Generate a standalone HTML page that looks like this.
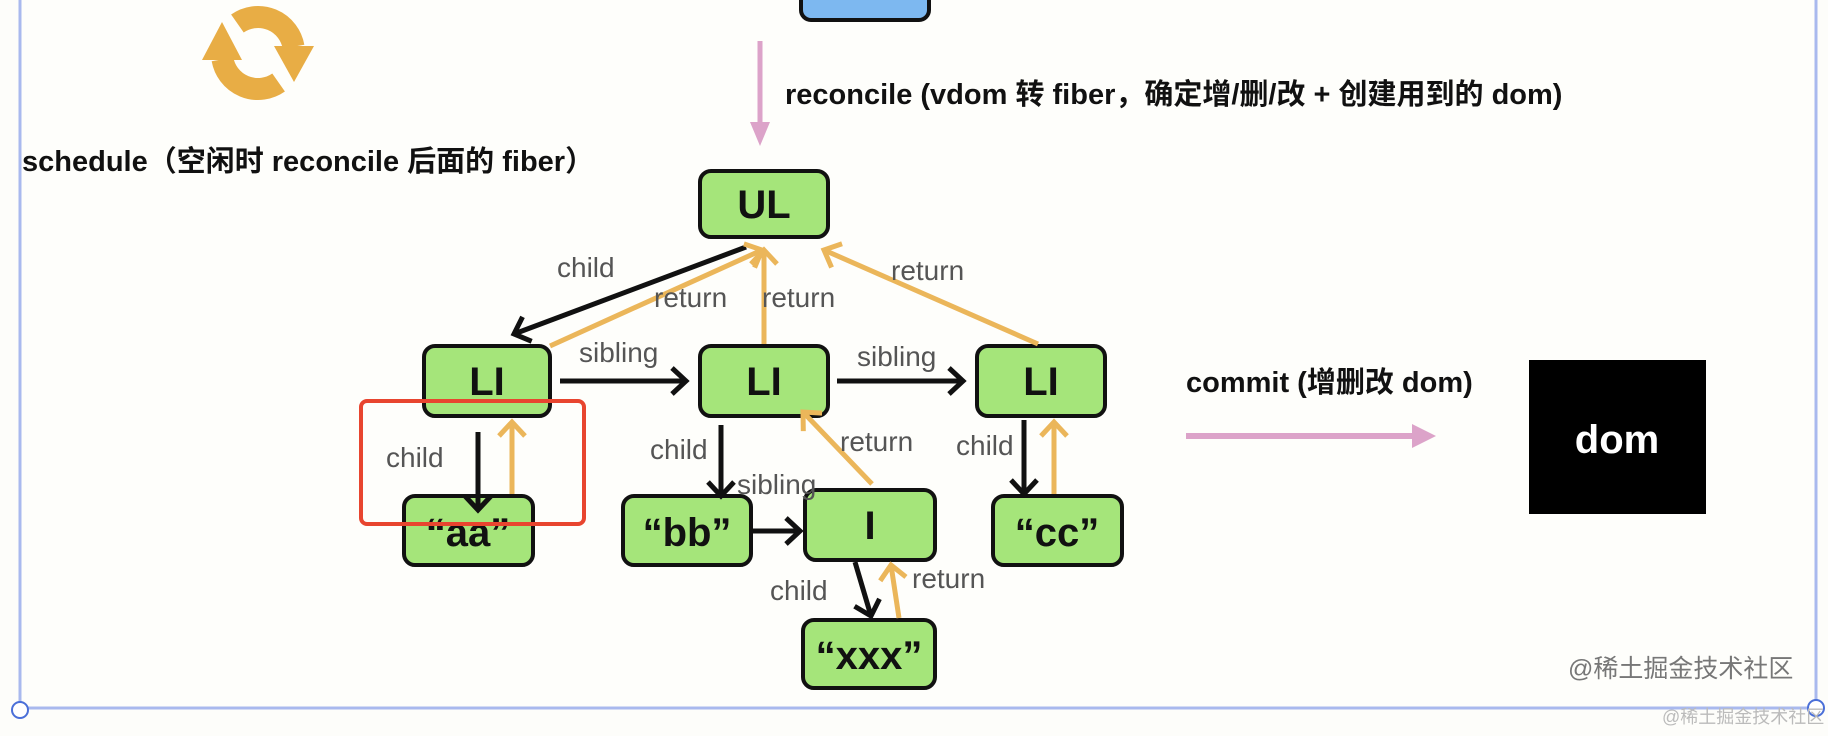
<!DOCTYPE html>
<html><head><meta charset="utf-8"><style>
html,body{margin:0;padding:0;background:#fdfdfa;}
svg{display:block}
.lbl{font-family:"Liberation Sans","Noto Sans CJK SC",sans-serif;font-size:28px;fill:#555;}
.nt{font-family:"Liberation Sans",sans-serif;font-size:40px;font-weight:bold;fill:#111;text-anchor:middle;dominant-baseline:central}
.bt{font-family:"Liberation Sans","Noto Sans CJK SC",sans-serif;font-size:29px;font-weight:bold;fill:#111;}
.nd{fill:#a5e57a;stroke:#111;stroke-width:4}
.bk{stroke:#111;stroke-width:5;fill:none}
.or{stroke:#ebb65a;stroke-width:5;fill:none}
</style></head><body>
<svg width="1828" height="736" viewBox="0 0 1828 736" xmlns="http://www.w3.org/2000/svg">
<defs>
<marker id="hb" markerWidth="8" markerHeight="10" refX="6" refY="5" orient="auto" markerUnits="userSpaceOnUse" viewBox="0 0 8 10" overflow="visible">
<path d="M-8,-8 L6,5 L-8,18" fill="none" stroke="#111" stroke-width="5"/></marker>
<marker id="ho" markerWidth="8" markerHeight="10" refX="6" refY="5" orient="auto" markerUnits="userSpaceOnUse" viewBox="0 0 8 10" overflow="visible">
<path d="M-8,-8 L6,5 L-8,18" fill="none" stroke="#ebb65a" stroke-width="5"/></marker>
</defs>
<rect x="0" y="0" width="1828" height="736" fill="#fdfdfa"/>
<rect x="20" y="-5" width="1796" height="713" fill="#fefefb" stroke="#a9b9ee" stroke-width="3"/>
<circle cx="20" cy="710" r="8" fill="#fff" stroke="#4a6fd8" stroke-width="2"/>
<circle cx="1816" cy="708" r="8" fill="#fff" stroke="#4a6fd8" stroke-width="2"/>

<!-- sync icon -->
<path d="M237.4,23.5 A36,36 0 0 1 293.5,46.7" stroke="#e8ad45" stroke-width="22" fill="none"/>
<polygon points="274,46 314,46 294,82" fill="#e8ad45"/>
<path d="M278.6,82.5 A36,36 0 0 1 222.5,59.3" stroke="#e8ad45" stroke-width="22" fill="none"/>
<polygon points="202,60 242,60 222,22" fill="#e8ad45"/>

<text class="bt" x="22" y="171">schedule（空闲时 reconcile 后面的 fiber）</text>

<!-- blue box top -->
<rect x="801" y="-20" width="128" height="40" rx="10" fill="#7db8f0" stroke="#111" stroke-width="4"/>

<!-- pink arrow -->
<line x1="760" y1="41" x2="760" y2="125" stroke="#dca3c9" stroke-width="5"/>
<polygon points="750,122 770,122 760,146" fill="#dca3c9"/>
<text class="bt" x="785" y="104">reconcile (vdom 转 fiber，确定增/删/改 + 创建用到的 dom)</text>

<!-- commit -->
<text class="bt" x="1186" y="392">commit (增删改 dom)</text>
<line x1="1186" y1="436" x2="1415" y2="436" stroke="#dca3c9" stroke-width="6"/>
<polygon points="1412,424 1436,436 1412,448" fill="#dca3c9"/>
<rect x="1529" y="360" width="177" height="154" fill="#000"/>
<text x="1617" y="440" font-family="Liberation Sans,sans-serif" font-size="40" font-weight="bold" fill="#fff" text-anchor="middle" dominant-baseline="central">dom</text>

<!-- nodes -->
<rect class="nd" x="700" y="171" width="128" height="66" rx="11"/><text class="nt" x="764" y="205">UL</text>
<rect class="nd" x="424" y="346" width="126" height="70" rx="11"/><text class="nt" x="487" y="382">LI</text>
<rect class="nd" x="700" y="346" width="128" height="70" rx="11"/><text class="nt" x="764" y="382">LI</text>
<rect class="nd" x="977" y="346" width="128" height="70" rx="11"/><text class="nt" x="1041" y="382">LI</text>
<rect class="nd" x="404" y="496" width="129" height="69" rx="11"/><text class="nt" x="468" y="533">“aa”</text>
<rect class="nd" x="623" y="496" width="128" height="69" rx="11"/><text class="nt" x="687" y="533">“bb”</text>
<rect class="nd" x="805" y="490" width="130" height="70" rx="11"/><text class="nt" x="870" y="526">I</text>
<rect class="nd" x="993" y="496" width="129" height="69" rx="11"/><text class="nt" x="1057" y="533">“cc”</text>
<rect class="nd" x="803" y="620" width="132" height="68" rx="11"/><text class="nt" x="869" y="656">“xxx”</text>

<!-- connectors -->
<line class="bk" x1="746" y1="247" x2="514" y2="334" marker-end="url(#hb)"/>
<line class="or" x1="550" y1="346" x2="762" y2="250" marker-end="url(#ho)"/>
<line class="or" x1="764" y1="344" x2="764" y2="250" marker-end="url(#ho)"/>
<line class="or" x1="1038" y1="344" x2="824" y2="250" marker-end="url(#ho)"/>
<line class="bk" x1="560" y1="381" x2="686" y2="381" marker-end="url(#hb)"/>
<line class="bk" x1="837" y1="381" x2="963" y2="381" marker-end="url(#hb)"/>
<line class="bk" x1="478" y1="432" x2="478" y2="510" marker-end="url(#hb)"/>
<line class="or" x1="512" y1="494" x2="512" y2="422" marker-end="url(#ho)"/>
<line class="bk" x1="721" y1="425" x2="721" y2="496" marker-end="url(#hb)"/>
<line class="or" x1="872" y1="484" x2="803" y2="412" marker-end="url(#ho)"/>
<line class="bk" x1="753" y1="531" x2="800" y2="531" marker-end="url(#hb)"/>
<line class="bk" x1="1024" y1="420" x2="1024" y2="494" marker-end="url(#hb)"/>
<line class="or" x1="1054" y1="494" x2="1054" y2="422" marker-end="url(#ho)"/>
<line class="bk" x1="855" y1="562" x2="871" y2="616" marker-end="url(#hb)"/>
<line class="or" x1="899" y1="618" x2="891" y2="565" marker-end="url(#ho)"/>

<!-- red rect -->
<rect x="361" y="401" width="223" height="123" rx="6" fill="none" stroke="#e8452f" stroke-width="4"/>

<!-- labels -->
<text class="lbl" x="557" y="277">child</text>
<text class="lbl" x="654" y="307">return</text>
<text class="lbl" x="762" y="307">return</text>
<text class="lbl" x="891" y="280">return</text>
<text class="lbl" x="579" y="362">sibling</text>
<text class="lbl" x="857" y="366">sibling</text>
<text class="lbl" x="386" y="467">child</text>
<text class="lbl" x="650" y="459">child</text>
<text class="lbl" x="737" y="494">sibling</text>
<text class="lbl" x="840" y="451">return</text>
<text class="lbl" x="956" y="455">child</text>
<text class="lbl" x="770" y="600">child</text>
<text class="lbl" x="912" y="588">return</text>

<text x="1568" y="677" font-family="Liberation Sans,Noto Sans CJK SC,sans-serif" font-size="25" fill="#777">@稀土掘金技术社区</text>
<text x="1662" y="723" font-family="Liberation Sans,Noto Sans CJK SC,sans-serif" font-size="18" fill="#bbb">@稀土掘金技术社区</text>
</svg>
</body></html>
